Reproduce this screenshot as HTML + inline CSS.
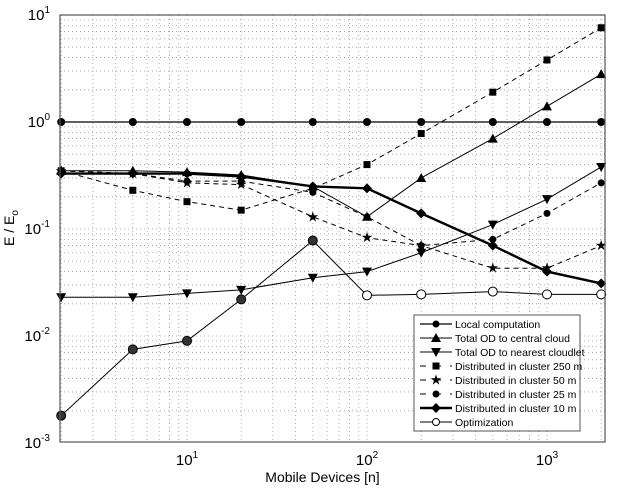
<!DOCTYPE html><html><head><style>body{margin:0;background:#fff}svg{display:block;font-family:"Liberation Sans",sans-serif}</style></head><body>
<svg id="s" width="617" height="488" xmlns="http://www.w3.org/2000/svg"></svg>
<script>
const s=document.getElementById('s');let h='';
const L=60,R=605,T=15,B=442;
const px=x=>187+180*(Math.log10(x)-1), py=y=>122-107*Math.log10(y);
for(let d=0;d<4;d++)for(let m=1;m<10;m++){let v=Math.pow(10,d)*m;let X=px(v);if(X>L+1&&X<R-1)h+=`<line x1="${X}" y1="${T}" x2="${X}" y2="${B}" stroke="#999" stroke-width="0.8" stroke-dasharray="1,3"/>`;}
for(let d=-3;d<1;d++)for(let m=1;m<10;m++){let v=Math.pow(10,d)*m;let Y=py(v);if(Y>T+1&&Y<B-1)h+=`<line x1="${L}" y1="${Y}" x2="${R}" y2="${Y}" stroke="#999" stroke-width="0.8" stroke-dasharray="1,3"/>`;}
const X=[2,5,10,20,50,100,200,500,1000,2000];
const S=[
{y:[1,1,1,1,1,1,1,1,1,1],m:'o',w:1.2,d:''},
{y:[0.35,0.35,0.34,0.32,0.25,0.13,0.3,0.7,1.4,2.8],m:'^',w:1,d:''},
{y:[0.023,0.023,0.025,0.027,0.035,0.04,0.06,0.11,0.19,0.38],m:'v',w:1,d:''},
{y:[0.35,0.23,0.18,0.15,0.24,0.4,0.78,1.9,3.8,7.6],m:'s',w:1,d:'5,4'},
{y:[0.35,0.33,0.27,0.26,0.13,0.083,0.07,0.043,0.043,0.07],m:'*',w:1,d:'5,4'},
{y:[0.35,0.33,0.28,0.28,0.22,0.13,0.07,0.08,0.14,0.27],m:'h',w:1,d:'5,4'},
{y:[0.33,0.33,0.33,0.31,0.25,0.24,0.14,0.07,0.04,0.031],m:'d',w:2.4,d:''},
{y:[0.0018,0.0075,0.009,0.022,0.078,0.024,0.0245,0.026,0.0245,0.0245],m:'c',w:1,d:''}];
function mk(m,x,y,f){
 if(m=='o')return `<circle cx="${x}" cy="${y}" r="4" fill="#000"/>`;
 if(m=='^')return `<polygon points="${x},${y-5} ${x-5},${y+4} ${x+5},${y+4}" fill="#000"/>`;
 if(m=='v')return `<polygon points="${x},${y+5} ${x-5},${y-4} ${x+5},${y-4}" fill="#000"/>`;
 if(m=='s')return `<rect x="${x-3.5}" y="${y-3.5}" width="7" height="7" fill="#000"/>`;
 if(m=='*')return `<text x="${x}" y="${y+4.5}" font-size="14" text-anchor="middle">★</text>`;
 if(m=='h')return `<circle cx="${x}" cy="${y}" r="3.5" fill="#000"/>`;
 if(m=='d')return `<polygon points="${x},${y-5} ${x+5},${y} ${x},${y+5} ${x-5},${y}" fill="#000"/>`;
 if(m=='c')return `<circle cx="${x}" cy="${y}" r="4.5" fill="${f?'#333':'#fff'}" stroke="#000"/>`;
}
S.forEach((o,k)=>{h+=`<polyline fill="none" stroke="#000" stroke-width="${o.w}" ${o.d?`stroke-dasharray="${o.d}"`:''} points="${X.map((x,i)=>px(x)+','+py(o.y[i])).join(' ')}"/>`;X.forEach((x,i)=>h+=mk(o.m,px(x),py(o.y[i]),k==7&&i<5));});
h+=`<rect x="${L}" y="${T}" width="${R-L}" height="${B-T}" fill="none" stroke="#555" stroke-width="1.2"/>`;
[[10,'1'],[100,'2'],[1000,'3']].forEach(([v,e])=>h+=`<text x="${px(v)}" y="465" font-size="15" text-anchor="middle">10<tspan dy="-7" font-size="10">${e}</tspan></text>`);
[[10,'1'],[1,'0'],[0.1,'-1'],[0.01,'-2'],[0.001,'-3']].forEach(([v,e])=>h+=`<text x="50" y="${py(v)+5}" font-size="15" text-anchor="end">10<tspan dy="-7" font-size="10">${e}</tspan></text>`);
h+=`<text x="${(L+R)/2-10}" y="482" font-size="14" text-anchor="middle">Mobile Devices [n]</text>`;
h+=`<text transform="translate(14,228) rotate(-90)" font-size="14" text-anchor="middle">E / E<tspan dy="4" font-size="10">o</tspan></text>`;
h+=`<rect x="414" y="315" width="166" height="116" fill="#fff" stroke="#555"/>`;
const names=['Local computation','Total OD to central cloud','Total OD to nearest cloudlet','Distributed in cluster 250 m','Distributed in cluster 50 m','Distributed in cluster 25 m','Distributed in cluster 10 m','Optimization'];
names.forEach((n,i)=>{let y=324+i*14;let o=S[i];h+=`<line x1="420" y1="${y}" x2="452" y2="${y}" stroke="#000" stroke-width="${o.w}" ${o.d?'stroke-dasharray="6,9"':''}/>`+mk(o.m,436,y,false).replace(/r="4(\.5)?"/,'r="3.5"')+`<text x="455" y="${y+4}" font-size="10.5">${n}</text>`;});
s.innerHTML=h;
</script></body></html>
